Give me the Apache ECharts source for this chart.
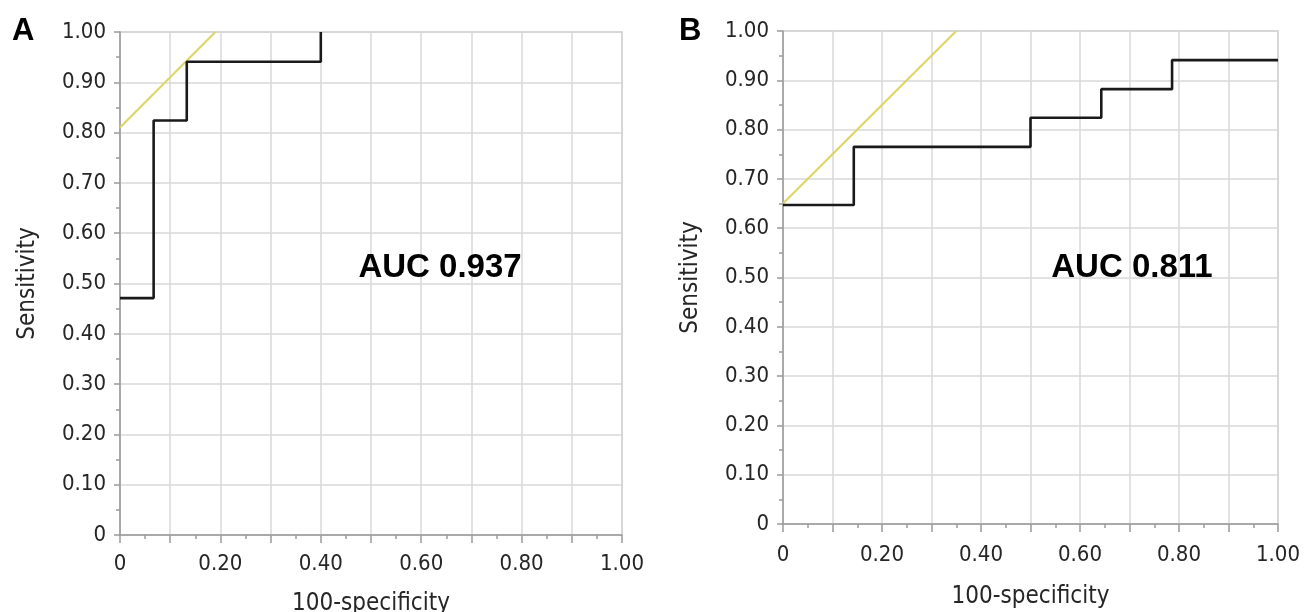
<!DOCTYPE html>
<html>
<head>
<meta charset="utf-8">
<script src="https://cdn.jsdelivr.net/npm/echarts@6/dist/echarts.min.js"></script>
<style>
  html, body { margin: 0; padding: 0; background: #fff; }
  #chart { width: 1309px; height: 612px; }
</style>
</head>
<body>
<div id="chart"></div>
<script>
// panel A ROC points (1 - specificity, sensitivity)
const fprA = [0, 0.067, 0.133, 0.40]
const tprA = [0.471, 0.824, 0.941, 1.00]
const refA = [[0, 0.81], [0.19, 1.00]]
const aucA = 'AUC 0.937'

// panel B
const fprB = [0, 0.143, 0.50, 0.643, 0.786, 1.00]
const tprB = [0.647, 0.765, 0.824, 0.882, 0.941, 0.941]
const refB = [[0, 0.65], [0.35, 1.00]]
const aucB = 'AUC 0.811'

const panelLabels = ['A', 'B']
const xName = '100-specificity'
const yName = 'Sensitivity'

const FONT = '"DejaVu Sans Condensed", "DejaVu Sans", sans-serif'
const BOLD = 'bold 33px "Liberation Sans", Arial, sans-serif'
const gridColor = '#d9d9d9'
const axisColor = '#9a9a9a'
const labelColor = '#262626'

const fmt = (v, every) => {
  const k = Math.round(v * 10)
  if (k % every !== 0) return ''
  return k === 0 ? '0' : v.toFixed(2)
}

const makeX = (idx, gap, margin) => ({
  type: 'value',
  gridIndex: idx,
  min: 0,
  max: 1,
  interval: 0.1,
  name: xName,
  nameLocation: 'middle',
  nameGap: gap,
  nameTextStyle: { fontFamily: FONT, fontSize: 24, color: labelColor },
  axisLine: { show: true, lineStyle: { color: axisColor, width: 1.5 } },
  axisTick: { show: true, length: 8, lineStyle: { color: axisColor, width: 1.5 } },
  minorTick: { show: true, splitNumber: 2, length: 4, lineStyle: { color: axisColor, width: 1.5 } },
  axisLabel: {
    margin: margin,
    fontFamily: FONT, fontSize: 22, color: labelColor,
    formatter: v => fmt(v, 2)
  },
  splitLine: { show: true, lineStyle: { color: gridColor, width: 1.5 } }
})

const makeY = (idx) => ({
  type: 'value',
  gridIndex: idx,
  min: 0,
  max: 1,
  interval: 0.1,
  name: yName,
  nameLocation: 'middle',
  nameGap: 80,
  nameTextStyle: { fontFamily: FONT, fontSize: 24, color: labelColor },
  axisLine: { show: true, lineStyle: { color: axisColor, width: 1.5 } },
  axisTick: { show: true, length: 6, lineStyle: { color: axisColor, width: 1.5 } },
  minorTick: { show: true, splitNumber: 2, length: 4, lineStyle: { color: axisColor, width: 1.5 } },
  axisLabel: {
    margin: 14,
    fontFamily: FONT, fontSize: 22, color: labelColor,
    formatter: v => fmt(v, 1)
  },
  splitLine: { show: true, lineStyle: { color: gridColor, width: 1.5 } }
})

const rocSeries = (idx, xs, ys) => ({
  type: 'line',
  xAxisIndex: idx,
  yAxisIndex: idx,
  step: 'end',
  symbol: 'none',
  data: xs.map((x, i) => [x, ys[i]]),
  lineStyle: { color: '#1a1a1a', width: 2.6 },
  z: 5
})

const refSeries = (idx, pts) => ({
  type: 'line',
  xAxisIndex: idx,
  yAxisIndex: idx,
  symbol: 'none',
  data: pts,
  lineStyle: { color: '#ddd563', width: 2 },
  z: 4
})

const chart = echarts.init(document.getElementById('chart'))

chart.setOption({
  backgroundColor: '#fff',
  animation: false,
  grid: [
    { left: 120, top: 32, width: 502, height: 503, outerBoundsMode: 'none', containLabel: false, show: true, borderColor: '#c4c4c4', borderWidth: 1.5 },
    { left: 783, top: 31, width: 495, height: 493, outerBoundsMode: 'none', containLabel: false, show: true, borderColor: '#c4c4c4', borderWidth: 1.5 }
  ],
  xAxis: [makeX(0, 57, 18), makeX(1, 61, 20)],
  yAxis: [makeY(0), makeY(1)],
  series: [
    refSeries(0, refA),
    rocSeries(0, fprA, tprA),
    refSeries(1, refB),
    rocSeries(1, fprB, tprB)
  ],
  graphic: [
    { type: 'text', z: 100, left: 12, top: 16, style: { text: panelLabels[0], font: 'bold 31px "Liberation Sans", Arial, sans-serif', fill: '#000' } },
    { type: 'text', z: 100, left: 679, top: 16, style: { text: panelLabels[1], font: 'bold 31px "Liberation Sans", Arial, sans-serif', fill: '#000' } },
    { type: 'text', z: 100, x: 440, y: 268, style: { text: aucA, font: BOLD, fill: '#000', align: 'center', verticalAlign: 'middle' } },
    { type: 'text', z: 100, x: 1132, y: 268, style: { text: aucB, font: BOLD, fill: '#000', align: 'center', verticalAlign: 'middle' } }
  ]
})
</script>
</body>
</html>
